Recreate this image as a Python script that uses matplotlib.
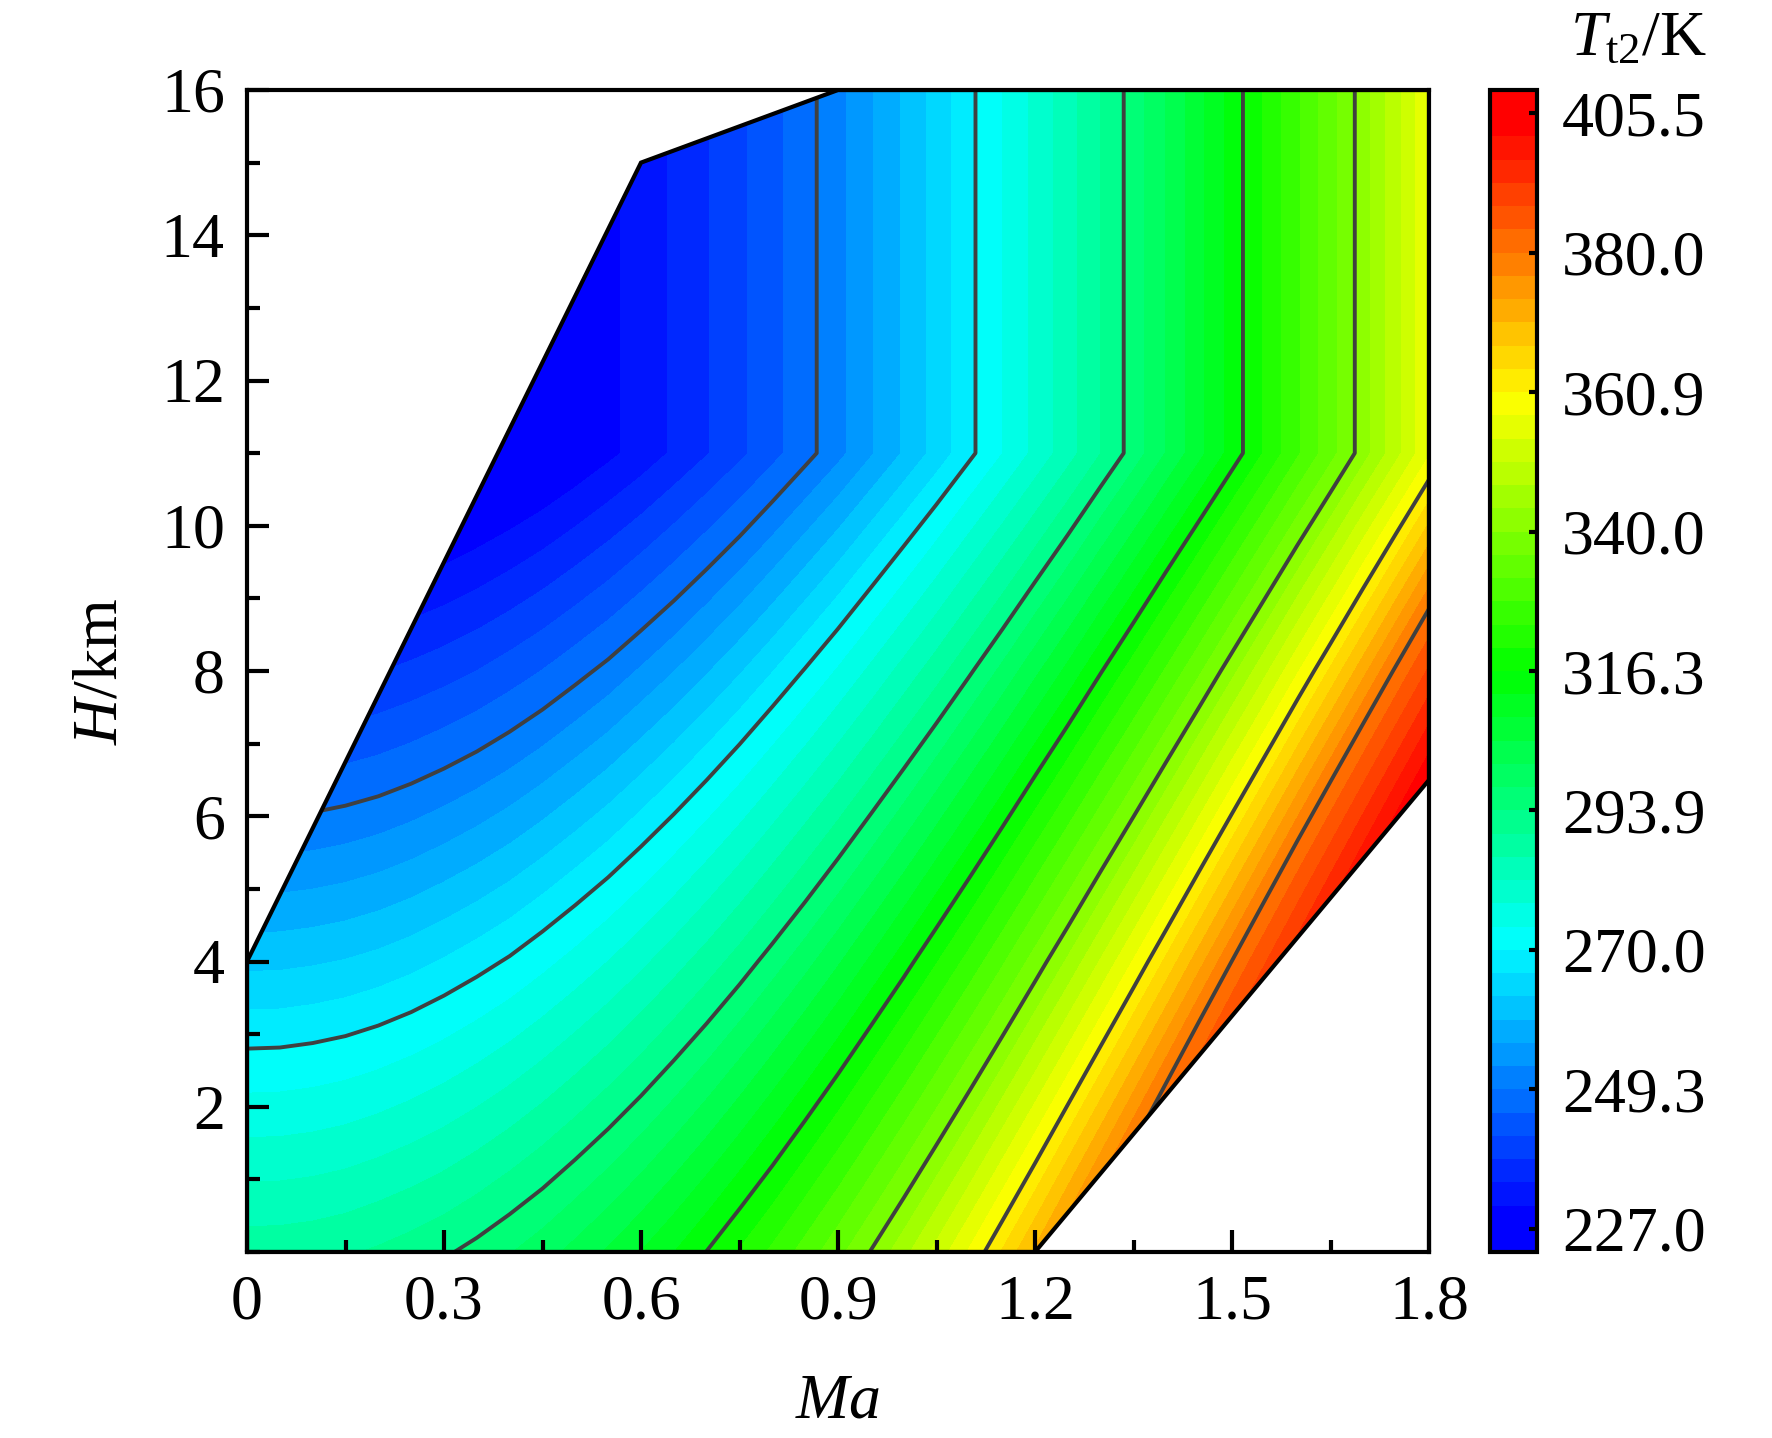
import numpy as np
import matplotlib
matplotlib.use('Agg')
import matplotlib.pyplot as plt
from matplotlib.colors import LinearSegmentedColormap, ListedColormap, BoundaryNorm
from matplotlib.patches import Polygon
from matplotlib.ticker import MultipleLocator

plt.rcParams['font.family'] = ['Liberation Serif', 'DejaVu Serif']
plt.rcParams['mathtext.fontset'] = 'custom'
plt.rcParams['mathtext.rm'] = 'Liberation Serif'
plt.rcParams['mathtext.it'] = 'Liberation Serif:italic'

# Mach number grid and altitude rows (km)
ma = [0.00, 0.05, 0.10, 0.15, 0.20, 0.25, 0.30, 0.35, 0.40, 0.45,
      0.50, 0.55, 0.60, 0.65, 0.70, 0.75, 0.80, 0.85, 0.90, 0.95,
      1.00, 1.05, 1.10, 1.15, 1.20, 1.25, 1.30, 1.35, 1.40, 1.45,
      1.50, 1.55, 1.60, 1.65, 1.70, 1.75, 1.80]
h = [0, 4, 8, 11, 16]

# total temperature Tt2 (K), one row per altitude
tt2_h0 = [288.2, 288.3, 288.7, 289.4, 290.5, 291.8, 293.3, 295.2, 297.4, 299.8,
          302.6, 305.6, 308.9, 312.5, 316.4, 320.6, 325.0, 329.8, 334.8, 340.2,
          345.8, 351.7, 357.9, 364.4, 371.1, 378.2, 385.5, 393.2, 401.1, 409.3,
          417.8, 426.6, 435.7, 445.0, 454.7, 464.6, 474.9]
tt2_h4 = [262.2, 262.3, 262.7, 263.3, 264.2, 265.4, 266.9, 268.6, 270.5, 272.8,
          275.3, 278.0, 281.0, 284.3, 287.8, 291.6, 295.7, 300.0, 304.6, 309.5,
          314.6, 320.0, 325.6, 331.5, 337.7, 344.1, 350.8, 357.7, 364.9, 372.4,
          380.1, 388.1, 396.4, 404.9, 413.7, 422.7, 432.0]
tt2_h8 = [236.2, 236.3, 236.6, 237.2, 238.0, 239.1, 240.4, 241.9, 243.7, 245.7,
          248.0, 250.4, 253.2, 256.1, 259.3, 262.7, 266.4, 270.3, 274.4, 278.8,
          283.4, 288.2, 293.3, 298.6, 304.2, 309.9, 316.0, 322.2, 328.7, 335.4,
          342.4, 349.6, 357.1, 364.7, 372.6, 380.8, 389.2]
tt2_h11 = [216.7, 216.8, 217.1, 217.6, 218.4, 219.4, 220.5, 222.0, 223.6, 225.4,
           227.5, 229.8, 232.2, 235.0, 237.9, 241.0, 244.4, 248.0, 251.7, 255.8,
           260.0, 264.4, 269.1, 273.9, 279.0, 284.3, 289.9, 295.6, 301.6, 307.7,
           314.1, 320.7, 327.6, 334.6, 341.9, 349.3, 357.0]
tt2_h16 = [216.7, 216.8, 217.1, 217.6, 218.4, 219.4, 220.5, 222.0, 223.6, 225.4,
           227.5, 229.8, 232.2, 235.0, 237.9, 241.0, 244.4, 248.0, 251.7, 255.8,
           260.0, 264.4, 269.1, 273.9, 279.0, 284.3, 289.9, 295.6, 301.6, 307.7,
           314.1, 320.7, 327.6, 334.6, 341.9, 349.3, 357.0]

# flight envelope outline (Ma, H)
env_ma = [0.0, 0.0, 0.6, 0.9, 1.8, 1.8, 1.2]
env_h = [0.0, 4.0, 15.0, 16.0, 16.0, 6.5, 0.0]

# colour-bar major levels
major = [227.0, 249.3, 270.0, 293.9, 316.3, 340.0, 360.9, 380.0, 405.5]
nsub = 6

tt2 = np.array([tt2_h0, tt2_h4, tt2_h8, tt2_h11, tt2_h16])

levels = [major[0]]
for a, b in zip(major[:-1], major[1:]):
    levels += list(np.linspace(a, b, nsub + 1)[1:])
levels = np.array(levels)
nb = len(levels) - 1

base = LinearSegmentedColormap.from_list(
    'bcgyr', ['#0000ff', '#00ffff', '#00ff00', '#ffff00', '#ff0000'])
cmap = ListedColormap([base(i / (nb - 1)) for i in range(nb)])
cmap.set_under('#0000ff')
cmap.set_over('#ff0000')
norm = BoundaryNorm(levels, nb)

W, H = 1772, 1438
fig = plt.figure(figsize=(W / 200, H / 200), dpi=200)
ax = fig.add_axes([247 / W, 1 - 1252 / H, (1429 - 247) / W, (1252 - 90) / H])
cax = fig.add_axes([1490 / W, 1 - 1252 / H, 47 / W, (1252 - 90) / H])

env = Polygon(list(zip(env_ma, env_h)), closed=True, facecolor='none',
              edgecolor='black', linewidth=1.5, zorder=5)
ax.add_patch(env)

cs = ax.contourf(ma, h, tt2, levels=levels, cmap=cmap, norm=norm, extend='both')
cs.set_clip_path(env)
cl = ax.contour(ma, h, tt2, levels=major[1:-1], colors='#404040', linewidths=1.4)
cl.set_clip_path(env)

ax.set_xlim(0, 1.8)
ax.set_ylim(0, 16)
ax.set_xticks([0, 0.3, 0.6, 0.9, 1.2, 1.5, 1.8])
ax.set_xticklabels(['0', '0.3', '0.6', '0.9', '1.2', '1.5', '1.8'])
ax.xaxis.set_minor_locator(MultipleLocator(0.15))
ax.set_yticks([2, 4, 6, 8, 10, 12, 14, 16])
ax.yaxis.set_minor_locator(MultipleLocator(1))
ax.tick_params(which='both', direction='in', width=1.5, labelsize=23)
ax.tick_params(which='major', length=8, pad=8)
ax.tick_params(which='minor', length=4.5)
for s in ax.spines.values():
    s.set_linewidth(1.5)

ax.set_xlabel(r'$\mathit{Ma}$', fontsize=23, labelpad=15)
ax.set_ylabel(r'$\mathit{H}$/km', fontsize=23, labelpad=11)

cb = fig.colorbar(cs, cax=cax, extendrect=True, extendfrac=1 / nb)
cb.set_ticks(major)
cb.set_ticklabels(['%.1f' % v for v in major])
cb.ax.tick_params(direction='in', length=3, width=1.5, labelsize=23, pad=9)
cb.ax.minorticks_off()
cb.outline.set_linewidth(1.5)
fig.text(1638 / W, 1 - 55 / H, r'$\mathit{T}_{\mathrm{t2}}$/K', fontsize=23,
         ha='center', va='baseline')

fig.savefig('out.png', dpi=200)
